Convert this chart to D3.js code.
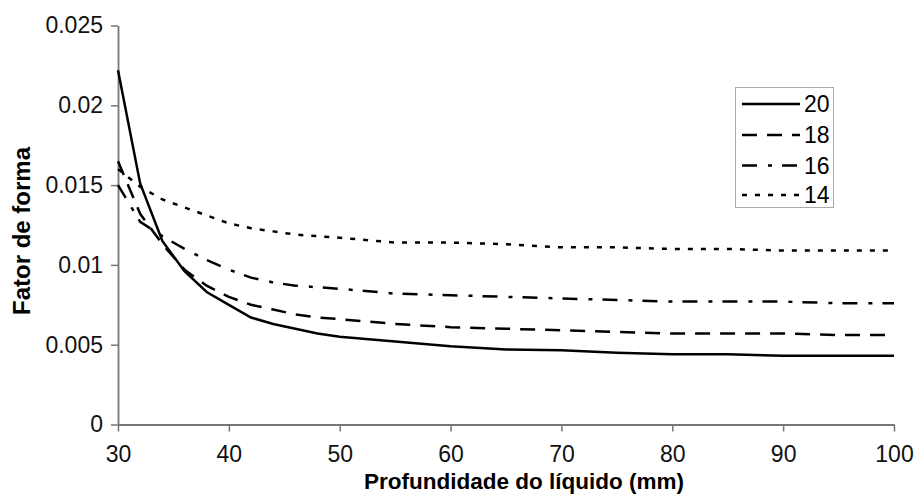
<!DOCTYPE html>
<html>
<head>
<meta charset="utf-8">
<script src="https://cdn.jsdelivr.net/npm/d3@7"></script>
<style>
  body { margin: 0; background: #fff; }
  svg { display: block; font-family: "Liberation Sans", Arial, sans-serif; }
</style>
</head>
<body>
<svg></svg>
<script>
// Fator de forma vs profundidade do líquido, four curves (20, 18, 16, 14)

const depth = [30, 32, 34, 36, 38, 40, 42, 44, 46, 48, 50, 55, 60, 65, 70, 75, 80, 85, 90, 95, 100];

const s20 = [0.0222, 0.0151, 0.0115, 0.0096, 0.0083, 0.0075, 0.0067, 0.0063, 0.0060, 0.0057, 0.0055,
  0.0052, 0.0049, 0.0047, 0.00465, 0.0045, 0.0044, 0.0044, 0.0043, 0.0043, 0.0043];
const s18 = [0.0165, 0.0132, 0.0113, 0.0097, 0.0087, 0.0080, 0.0075, 0.0072, 0.0069, 0.0067, 0.0066,
  0.0063, 0.0061, 0.0060, 0.0059, 0.0058, 0.0057, 0.0057, 0.0057, 0.0056, 0.0056];
const s16 = [0.0150, 0.0127, 0.0118, 0.0110, 0.0103, 0.0097, 0.0092, 0.0089, 0.0087, 0.0086, 0.0085,
  0.0082, 0.0081, 0.0080, 0.0079, 0.0078, 0.0077, 0.0077, 0.0077, 0.0076, 0.0076];
const s14 = [0.0160, 0.0149, 0.0141, 0.0136, 0.0131, 0.0126, 0.0123, 0.0121, 0.0119, 0.0118, 0.0117,
  0.0114, 0.0114, 0.0113, 0.0111, 0.0111, 0.0110, 0.0110, 0.0109, 0.0109, 0.0109];

const seriesNames = ["20", "18", "16", "14"];
const dashes = [null, "15,10", "15,11,4,10", "5,8"];

const xTicks = [30, 40, 50, 60, 70, 80, 90, 100];
const yTicks = [0, 0.005, 0.01, 0.015, 0.02, 0.025];
const yTickLabels = ["0", "0.005", "0.01", "0.015", "0.02", "0.025"];

const width = 914;
const height = 497;
const axisColor = "#777";

const svg = d3.select("svg").attr("width", width).attr("height", height);

const x = d3.scaleLinear().domain([30, 100]).range([118, 894]);
const y = d3.scaleLinear().domain([0, 0.025]).range([424.5, 25.5]);

// ---- Axes ----
const yAxis = svg
  .append("g")
  .attr("transform", `translate(${x(30)},0)`)
  .call(
    d3.axisLeft(y)
      .tickValues(yTicks)
      .tickFormat((d, i) => yTickLabels[i])
      .tickSize(7)
      .tickPadding(8)
      .tickSizeOuter(0)
  );

const xAxis = svg
  .append("g")
  .attr("transform", `translate(0,${y(0)})`)
  .call(
    d3.axisBottom(x)
      .tickValues(xTicks)
      .tickSize(7)
      .tickPadding(14)
      .tickSizeOuter(0)
  );

[xAxis, yAxis].forEach((g) => {
  g.select(".domain").attr("stroke", axisColor).attr("stroke-width", 1.8);
  g.selectAll(".tick line").attr("stroke", axisColor).attr("stroke-width", 1.5);
  g.selectAll(".tick text")
    .attr("fill", "#111")
    .style("font-size", "23px")
    .style("font-family", "'Liberation Sans', Arial, sans-serif");
});

// ---- Axis titles ----
// the x title sits a little right of the plot centre in the original
svg
  .append("text")
  .attr("x", 524)
  .attr("y", 489)
  .attr("text-anchor", "middle")
  .style("font-size", "22.5px")
  .style("font-weight", "bold")
  .text("Profundidade do líquido (mm)");

svg
  .append("text")
  .attr("transform", `translate(30,${(y(0) + y(0.025)) / 2 + 6}) rotate(-90)`)
  .attr("text-anchor", "middle")
  .style("font-size", "24px")
  .style("font-weight", "bold")
  .text("Fator de forma");

// ---- Lines ----
const allSeries = [s20, s18, s16, s14];

const line = d3
  .line()
  .x((d, i) => x(depth[i]))
  .y((d) => y(d));

svg
  .append("g")
  .selectAll("path")
  .data(allSeries)
  .join("path")
  .attr("d", (d) => line(d))
  .attr("fill", "none")
  .attr("stroke", "#000")
  .attr("stroke-width", 2.5)
  .attr("stroke-dasharray", (d, i) => dashes[i]);

// ---- Legend ----
const legend = svg.append("g");

legend
  .append("rect")
  .attr("x", 735.5)
  .attr("y", 87.5)
  .attr("width", 98)
  .attr("height", 120)
  .attr("fill", "#fff")
  .attr("stroke", "#aaa")
  .attr("stroke-width", 1);

const rowY = [104, 135, 165.5, 195];

const row = legend
  .selectAll("g.row")
  .data(seriesNames)
  .join("g")
  .attr("class", "row")
  .attr("transform", (d, i) => `translate(0,${rowY[i]})`);

row
  .append("line")
  .attr("x1", 742)
  .attr("x2", 800)
  .attr("stroke", "#000")
  .attr("stroke-width", 2.5)
  .attr("stroke-dasharray", (d, i) => dashes[i]);

row
  .append("text")
  .attr("x", 804)
  .attr("dy", "0.36em")
  .style("font-size", "23px")
  .text((d) => d);
</script>
</body>
</html>
